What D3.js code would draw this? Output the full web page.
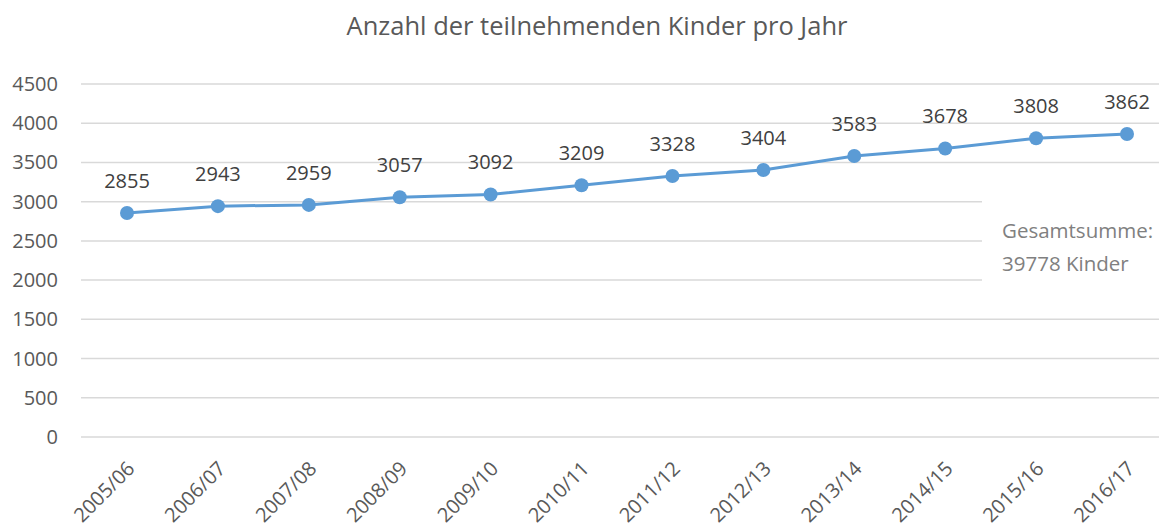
<!DOCTYPE html>
<html lang="de">
<head>
<meta charset="utf-8">
<title>Anzahl der teilnehmenden Kinder pro Jahr</title>
<script src="https://d3js.org/d3.v7.min.js"></script>
<style>
  body { margin: 0; background: #fff; }
  text { font-family: "Open Sans", sans-serif; }
</style>
</head>
<body>
<script>
// data
const years = ["2005/06", "2006/07", "2007/08", "2008/09", "2009/10", "2010/11",
               "2011/12", "2012/13", "2013/14", "2014/15", "2015/16", "2016/17"];
const kinder = [2855, 2943, 2959, 3057, 3092, 3209, 3328, 3404, 3583, 3678, 3808, 3862];
const yTicks = [0, 500, 1000, 1500, 2000, 2500, 3000, 3500, 4000, 4500];
const noteLines = ["Gesamtsumme:", "39778 Kinder"];

const width = 1159, height = 525;
const svg = d3.select("body").append("svg")
  .attr("width", width).attr("height", height);

const x = d3.scalePoint().domain(years).range([127, 1127]);
const y = d3.scaleLinear().domain([0, 4500]).range([437, 84]);

// title
svg.append("text")
  .attr("x", 597).attr("y", 35)
  .attr("text-anchor", "middle")
  .attr("font-size", 25.5)
  .attr("fill", "#595959")
  .text("Anzahl der teilnehmenden Kinder pro Jahr");

// gridlines
svg.append("g").selectAll("line")
  .data(yTicks).join("line")
  .attr("x1", 81).attr("x2", width)
  .attr("y1", d => y(d)).attr("y2", d => y(d))
  .attr("stroke", "#d9d9d9").attr("stroke-width", 1.5);

// y labels
svg.append("g").selectAll("text")
  .data(yTicks).join("text")
  .attr("x", 58).attr("y", d => y(d))
  .attr("dy", "0.35em")
  .attr("text-anchor", "end")
  .attr("font-size", 20)
  .attr("fill", "#595959")
  .text(d => d);

// x labels, rotated (cut off at the bottom like in the original)
svg.append("g").selectAll("text")
  .data(years).join("text")
  .attr("transform", d => `translate(${x(d) - 1},${460}) rotate(-45)`)
  .attr("text-anchor", "end")
  .attr("dy", "0.7em")
  .attr("font-size", 20)
  .attr("fill", "#595959")
  .text(d => d);

// white box for the note (covers gridlines)
svg.append("rect")
  .attr("x", 982).attr("y", 172)
  .attr("width", width - 982).attr("height", 118)
  .attr("fill", "#fff");

svg.append("g").selectAll("text")
  .data(noteLines).join("text")
  .attr("x", 1002).attr("y", (d, i) => 238 + i * 33)
  .attr("font-size", 20.5)
  .attr("fill", "#808080")
  .text(d => d);

// line
const line = d3.line()
  .x((d, i) => x(years[i]))
  .y(d => y(d));

svg.append("path")
  .datum(kinder)
  .attr("d", line)
  .attr("fill", "none")
  .attr("stroke", "#5b9bd5")
  .attr("stroke-width", 3);

svg.append("g").selectAll("circle")
  .data(kinder).join("circle")
  .attr("cx", (d, i) => x(years[i]))
  .attr("cy", d => y(d))
  .attr("r", 7)
  .attr("fill", "#5b9bd5");

// data labels
svg.append("g").selectAll("text")
  .data(kinder).join("text")
  .attr("x", (d, i) => x(years[i]))
  .attr("y", d => y(d) - 25)
  .attr("text-anchor", "middle")
  .attr("font-size", 20)
  .attr("fill", "#404040")
  .text(d => d);
</script>
</body>
</html>
